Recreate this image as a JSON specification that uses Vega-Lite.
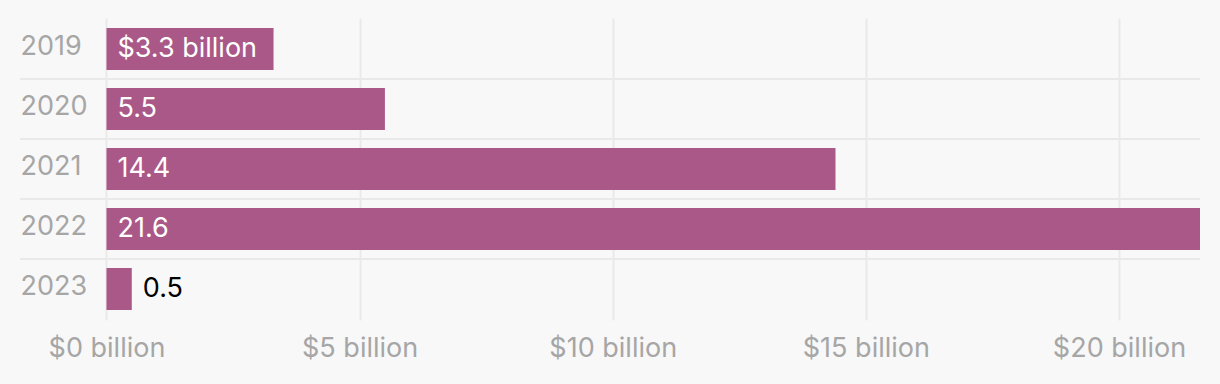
{
  "$schema": "https://vega.github.io/schema/vega-lite/v6.json",
  "width": 1180,
  "height": 302,
  "autosize": {"type": "none"},
  "padding": {"left": 20, "top": 18, "right": 20, "bottom": 64},
  "background": "#f8f8f8",
  "config": {
    "view": {"stroke": null},
    "font": "Inter",
    "axis": {"labelFont": "Inter", "labelFontSize": 27, "labelColor": "#a6a6a6", "domain": false, "ticks": false, "tickSize": 0, "title": null}
  },
  "data": {
    "values": [
      {"year": "2019", "value": 3.3, "label": "$3.3 billion"},
      {"year": "2020", "value": 5.5, "label": "5.5"},
      {"year": "2021", "value": 14.4, "label": "14.4"},
      {"year": "2022", "value": 21.6, "label": "21.6"},
      {"year": "2023", "value": 0.5, "label": "0.5"}
    ]
  },
  "encoding": {
    "y": {
      "field": "year",
      "type": "nominal",
      "sort": null,
      "scale": {"domain": ["2019", "2020", "2021", "2022", "2023"], "paddingInner": 0.3, "paddingOuter": 0.1667},
      "axis": {"labelAlign": "left", "labelPadding": 0, "grid": false, "labelOffset": -2}
    }
  },
  "layer": [
    {
      "transform": [{"filter": "datum.year != '2019'"}],
      "mark": {"type": "rule", "color": "#e9e9e9", "strokeWidth": 2, "yOffset": -30},
      "encoding": {
        "x": {"datum": -1.708},
        "x2": {"datum": 21.6}
      }
    },
    {
      "mark": {"type": "bar", "color": "#aa5887"},
      "encoding": {
        "x": {
          "field": "value",
          "type": "quantitative",
          "scale": {"domain": [-1.708, 21.6], "nice": false, "zero": false},
          "axis": {
            "values": [0, 5, 10, 15, 20],
            "labelExpr": "'$' + datum.value + ' billion'",
            "grid": true,
            "gridColor": "#e9e9e9",
            "gridWidth": 2,
            "labelPadding": 15,
            "labelFlush": false
          }
        },
        "x2": {"datum": 0}
      }
    },
    {
      "transform": [{"filter": "datum.value >= 1"}],
      "mark": {"type": "text", "align": "left", "baseline": "middle", "dx": 11, "fontSize": 27, "color": "white", "yOffset": 21},
      "encoding": {
        "x": {"datum": 0},
        "text": {"field": "label"},
        "y": {"field": "year", "type": "nominal", "sort": null, "bandPosition": 0}
      }
    },
    {
      "transform": [{"filter": "datum.value < 1"}],
      "mark": {"type": "text", "align": "left", "baseline": "middle", "dx": 11, "fontSize": 27, "color": "black", "yOffset": 21},
      "encoding": {
        "x": {"field": "value", "type": "quantitative"},
        "text": {"field": "label"},
        "y": {"field": "year", "type": "nominal", "sort": null, "bandPosition": 0}
      }
    }
  ]
}
